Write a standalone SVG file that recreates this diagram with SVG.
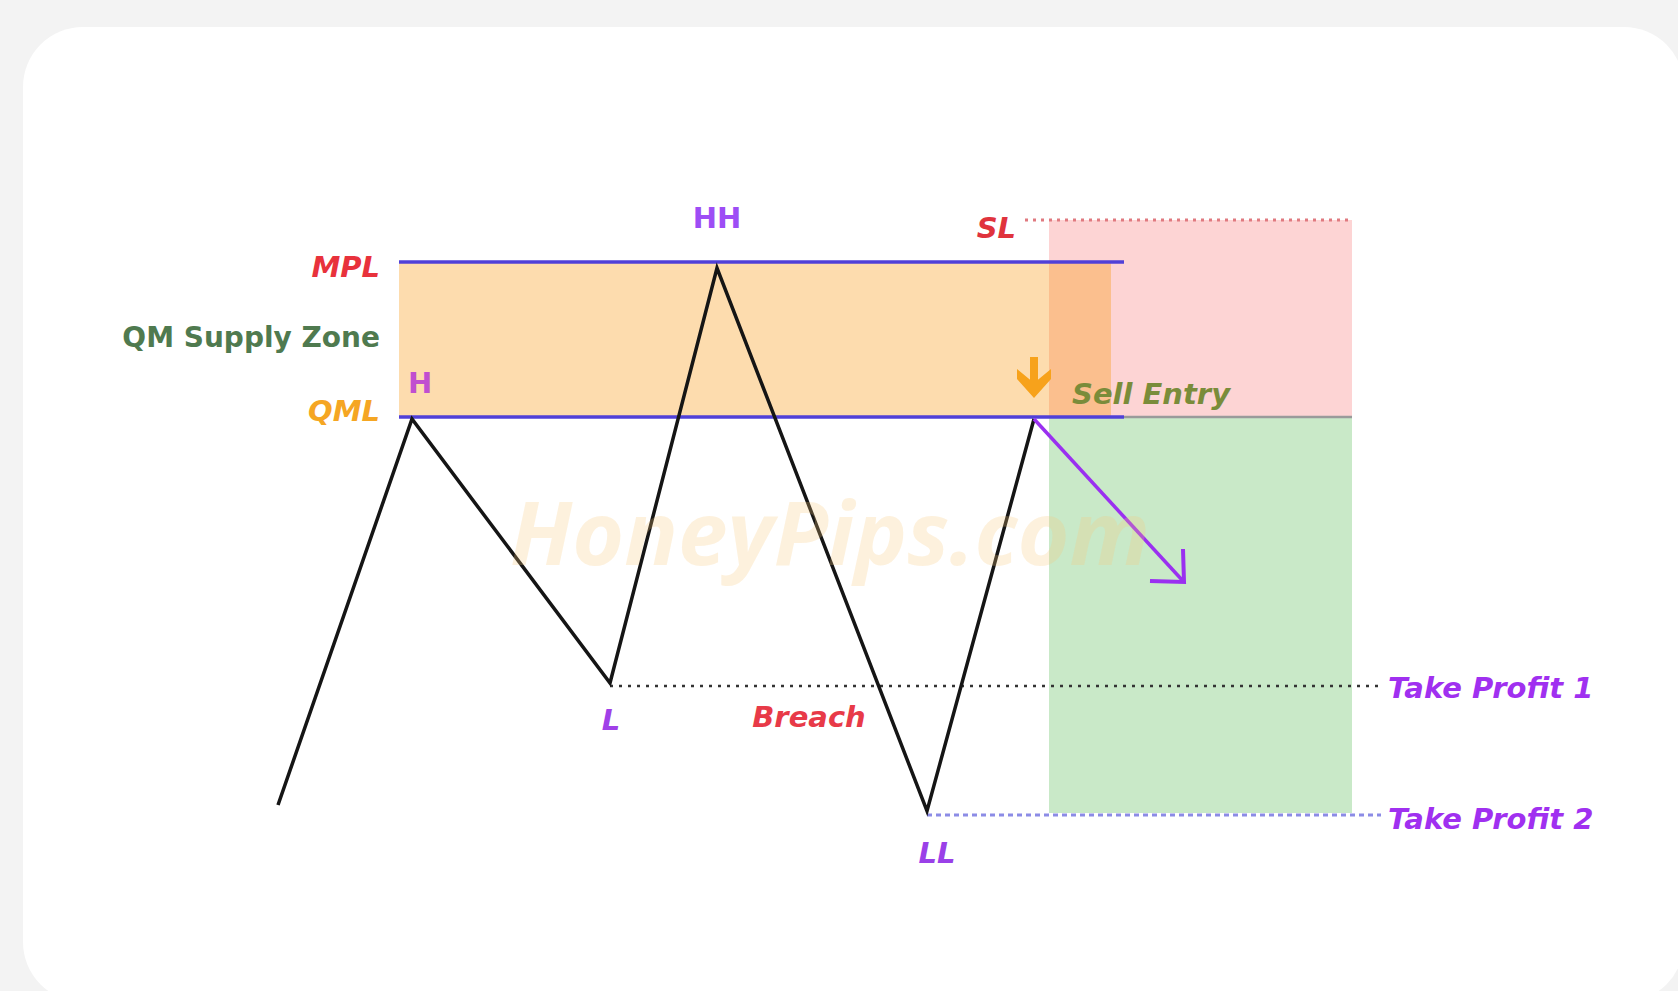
<svg xmlns="http://www.w3.org/2000/svg" width="1678" height="991" viewBox="0 0 1678 991">
<style>
.lbl{font-family:"DejaVu Sans","Liberation Sans",sans-serif;font-size:29px;font-weight:bold}
.it{font-style:italic}
.lvl{stroke:#5040d8;stroke-width:3.5;fill:none}
.zig{stroke:#151515;stroke-width:3.5;fill:none;stroke-linejoin:miter}
</style>
<rect x="0" y="0" width="1678" height="991" fill="#f3f3f3"/>
<rect x="23" y="27" width="1661" height="975" rx="60" ry="60" fill="#ffffff"/>

<g id="zones">
  <rect x="399" y="262" width="650" height="155" fill="#fddcae"/>
  <rect x="1049" y="220" width="303" height="197" fill="#fdd4d4"/>
  <rect x="1049" y="262" width="62" height="155" fill="#fbbf8e"/>
  <rect x="1049" y="417" width="303" height="396" fill="#c9e9c8"/>
</g>

<g id="connectors">
  <line x1="1025" y1="220" x2="1352" y2="220" stroke="#e07a80" stroke-width="3" stroke-dasharray="3 5"/>
  <line x1="610" y1="686" x2="1381" y2="686" stroke="#333" stroke-width="2.5" stroke-dasharray="3 6"/>
  <line x1="927" y1="815" x2="1381" y2="815" stroke="#8c8ce6" stroke-width="3" stroke-dasharray="5 4"/>
  <line x1="1124" y1="417" x2="1352" y2="417" stroke="#9a9a9a" stroke-width="2.5"/>
  <line class="lvl" x1="399" y1="262" x2="1124" y2="262"/>
  <line class="lvl" x1="399" y1="417" x2="1124" y2="417"/>
  <polyline class="zig" points="278,805 412,419 610,683 717,268 927,811 1034,419"/>
  <line x1="1034" y1="419" x2="1183" y2="581" stroke="#9a30f0" stroke-width="3.5"/>
  <polyline points="1150,581 1184,582 1183,549" fill="none" stroke="#9a30f0" stroke-width="4"/>
  <rect x="1030" y="357" width="8" height="28" fill="#f7a21b"/>
  <polygon points="1017,369 1034,383 1051,369 1051,379 1034,398 1017,379" fill="#f7a21b"/>
</g>

<g id="watermark">
  <text x="830" y="565" text-anchor="middle" font-family="Open Sans, DejaVu Sans, sans-serif" font-weight="bold" font-style="italic" font-size="88" fill="#f9c77a" fill-opacity="0.26" textLength="640" lengthAdjust="spacingAndGlyphs">HoneyPips.com</text>
</g>

<g id="mpl"><text class="lbl it" x="380" y="277" text-anchor="end" fill="#e8323c">MPL</text></g>
<g id="qm-supply-zone"><text class="lbl" x="380" y="347" text-anchor="end" fill="#4f7a4f" style="font-size:28px">QM Supply Zone</text></g>
<g id="h"><text class="lbl" x="408" y="393" fill="#c04fd0">H</text></g>
<g id="qml"><text class="lbl it" x="380" y="421" text-anchor="end" fill="#f5a623">QML</text></g>
<g id="hh"><text class="lbl" x="717" y="228" text-anchor="middle" fill="#9d4df5">HH</text></g>
<g id="sl"><text class="lbl it" x="1016" y="238" text-anchor="end" fill="#e0333d">SL</text></g>
<g id="sell-entry"><text class="lbl it" x="1072" y="404" fill="#7a8c3a">Sell Entry</text></g>
<g id="l"><text class="lbl it" x="611" y="730" text-anchor="middle" fill="#a040e8">L</text></g>
<g id="breach"><text class="lbl it" x="809" y="727" text-anchor="middle" fill="#e83a48">Breach</text></g>
<g id="ll"><text class="lbl it" x="937" y="863" text-anchor="middle" fill="#9a40e8">LL</text></g>
<g id="tp1"><text class="lbl it" x="1388" y="698" fill="#a030f0">Take Profit 1</text></g>
<g id="tp2"><text class="lbl it" x="1388" y="829" fill="#a030f0">Take Profit 2</text></g>
</svg>
